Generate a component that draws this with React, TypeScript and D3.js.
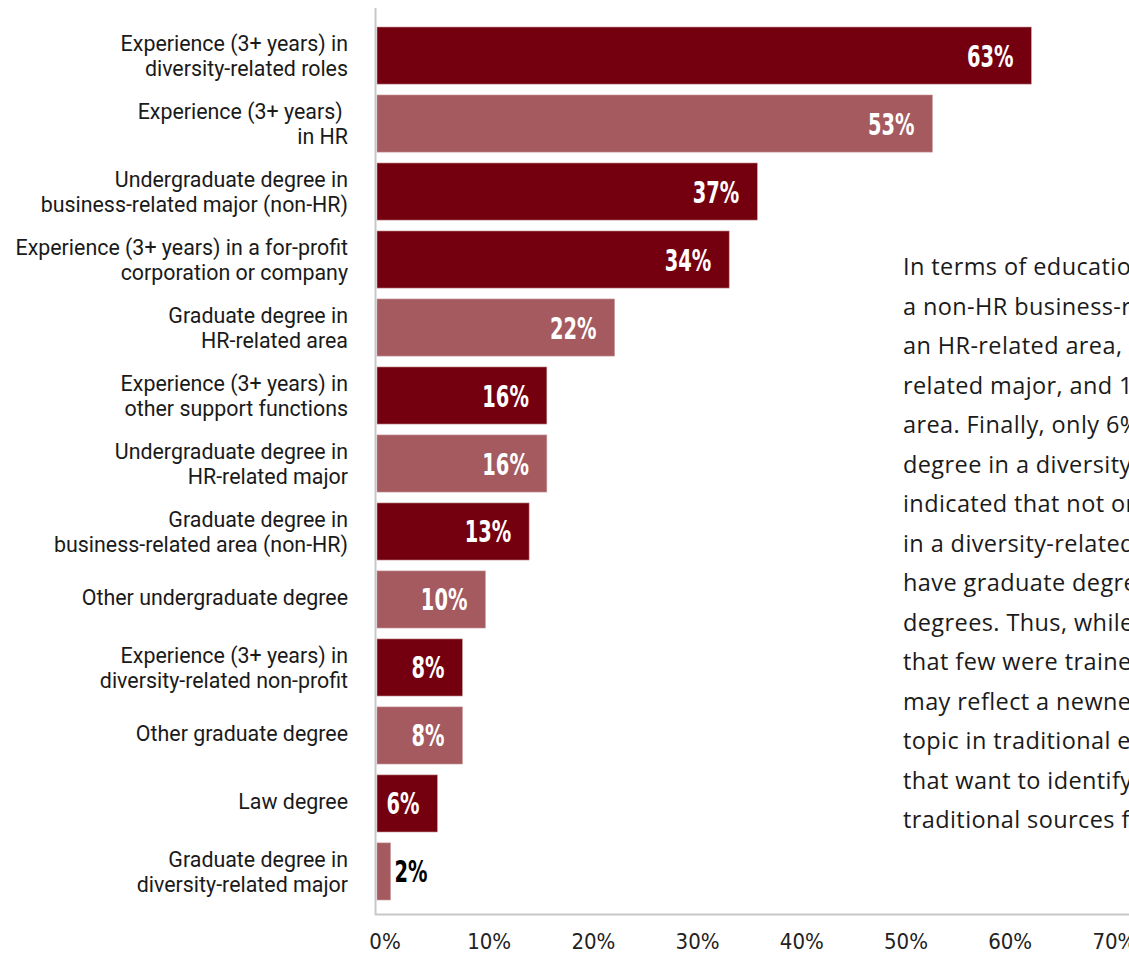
import React, { useEffect, useRef } from 'react'
import * as d3 from 'd3'

// bar categories, top to bottom ("\n" marks the line break)
const categories = [
  'Experience (3+ years) in\ndiversity-related roles',
  'Experience (3+ years) \nin HR',
  'Undergraduate degree in\nbusiness-related major (non-HR)',
  'Experience (3+ years) in a for-profit\ncorporation or company',
  'Graduate degree in\nHR-related area',
  'Experience (3+ years) in\nother support functions',
  'Undergraduate degree in\nHR-related major',
  'Graduate degree in\nbusiness-related area (non-HR)',
  'Other undergraduate degree',
  'Experience (3+ years) in\ndiversity-related non-profit',
  'Other graduate degree',
  'Law degree',
  'Graduate degree in\ndiversity-related major',
]

// bar lengths (percent)
const values = [62.8, 53.3, 36.5, 33.8, 22.8, 16.3, 16.3, 14.6, 10.4, 8.2, 8.2, 5.8, 1.3]

// printed labels
const valueLabels = ['63%', '53%', '37%', '34%', '22%', '16%', '16%', '13%', '10%', '8%', '8%', '6%', '2%']

// shade of each bar: 0 = dark, 1 = light
const shades = [0, 1, 0, 0, 1, 0, 1, 0, 1, 0, 1, 0, 1]

const xTicks = [0, 10, 20, 30, 40, 50, 60, 70]

const paragraph = [
  'In terms of education, 37% had',
  'a non-HR business-related',
  'an HR-related area, 16% had an',
  'related major, and 13% had a',
  'area. Finally, only 6% had a law',
  'degree in a diversity-related',
  'indicated that not only did',
  'in a diversity-related major',
  'have graduate degrees in',
  'degrees. Thus, while many',
  'that few were trained in',
  'may reflect a newness of',
  'topic in traditional education',
  'that want to identify talent',
  'traditional sources for',
]

const W = 1129
const H = 953

function App() {
  const refSvg = useRef(null)

  const draw = () => {
    const svg = d3.select(refSvg.current)
    svg.selectAll('*').remove()

    const x = d3.scaleLinear().domain([0, 70]).range([377, 377 + 70 * 10.42])
    const y = d3
      .scaleBand()
      .domain(categories)
      .range([27, 900])
      .paddingInner(0.16)
      .paddingOuter(0)

    const color = d3.scaleOrdinal<number, string>().domain([0, 1]).range(['#74000f', '#a45a5f'])

    const data = categories.map((c, i) => ({ c, v: values[i], label: valueLabels[i], s: shades[i] }))

    // bars
    svg
      .append('g')
      .selectAll('rect')
      .data(data)
      .join('rect')
      .attr('x', x(0))
      .attr('y', (d) => y(d.c) as number)
      .attr('width', (d) => x(d.v) - x(0))
      .attr('height', y.bandwidth())
      .attr('fill', (d) => color(d.s))
      .attr('stroke', '#c99ca0')
      .attr('stroke-width', 0.6)

    // axis lines
    svg.append('line').attr('x1', 375.5).attr('x2', 375.5).attr('y1', 8).attr('y2', 915)
      .attr('stroke', '#c8c8c8').attr('stroke-width', 2)
    svg.append('line').attr('x1', 375).attr('x2', W).attr('y1', 914.5).attr('y2', 914.5)
      .attr('stroke', '#c8c8c8').attr('stroke-width', 2)

    // category labels
    const lab = svg.append('g').attr('font-family', 'Roboto, sans-serif').attr('font-size', 21.4).attr('fill', '#1a1a1a')
    data.forEach((d) => {
      const lines = d.c.split('\n')
      const cy = (y(d.c) as number) + y.bandwidth() / 2
      const t = lab.append('text').attr('text-anchor', 'end')
      lines.forEach((ln, j) => {
        t.append('tspan')
          .attr('x', 348)
          .attr('y', cy + (j - (lines.length - 1) / 2) * 25 + (lines.length > 1 ? 8 : 6))
          .attr('xml:space', 'preserve')
          .text(ln)
      })
    })

    // value labels (condensed bold, squeezed horizontally)
    svg
      .append('g')
      .selectAll('text')
      .data(data)
      .join('text')
      .attr('font-family', '"DejaVu Sans Condensed", sans-serif')
      .attr('font-weight', 'bold')
      .attr('font-size', 30)
      .attr('transform', (d) => {
        const tx = d.v < 4 ? x(d.v) + 4 : x(d.v) - 18
        const ty = (y(d.c) as number) + y.bandwidth() / 2 + 11
        return `translate(${tx},${ty}) scale(0.72,1)`
      })
      .attr('text-anchor', (d) => (d.v < 4 ? 'start' : 'end'))
      .attr('fill', (d) => (d.v < 4 ? '#000' : '#fff'))
      .text((d) => d.label)

    // x tick labels
    svg
      .append('g')
      .selectAll('text')
      .data(xTicks)
      .join('text')
      .attr('font-family', '"DejaVu Sans Condensed", sans-serif')
      .attr('font-size', 22)
      .attr('fill', '#222')
      .attr('text-anchor', 'middle')
      .attr('x', (d) => x(d) + 8)
      .attr('y', 949)
      .text((d) => d + '%')

    // paragraph on the right
    svg
      .append('g')
      .selectAll('text')
      .data(paragraph)
      .join('text')
      .attr('font-family', '"Open Sans", sans-serif')
      .attr('font-size', 23.5)
      .attr('letter-spacing', 0.4)
      .attr('fill', '#1a1a1a')
      .attr('x', 903)
      .attr('y', (d, i) => 275 + i * 39.5)
      .text((d) => d)
  }

  useEffect(() => {
    if (refSvg) {
      draw()
    }
  })

  return (
    <svg
      ref={refSvg}
      width={W}
      height={H}
      style={{ position: 'absolute', left: 0, top: 0, background: '#fff' }}
    />
  )
}

export default App
